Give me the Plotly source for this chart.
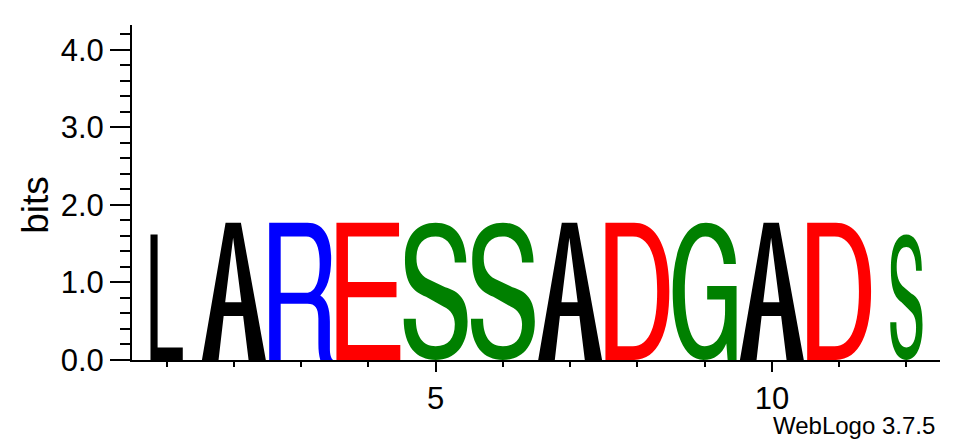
import plotly.graph_objects as go

# sequence logo data
positions = list(range(1, 13))
residues = ['L', 'A', 'R', 'E', 'S', 'S', 'A', 'D', 'G', 'A', 'D', 'S']
bits = [1.62, 1.77, 1.77, 1.77, 1.77, 1.77, 1.77, 1.77, 1.77, 1.77, 1.77, 1.62]
ytick_vals = [0, 1, 2, 3, 4]
ytick_text = ['0.0', '1.0', '2.0', '3.0', '4.0']
xtick_vals = [5, 10]
xtick_text = ['5', '10']

# styling
colour_scheme = {'L': '#000000', 'A': '#000000', 'R': '#0000FF', 'E': '#FF0000',
                 'D': '#FF0000', 'S': '#008000', 'G': '#008000'}
col_width = [0.48, 0.95, 0.95, 0.95, 0.95, 0.95, 0.95, 0.95, 0.95, 0.95, 0.95, 0.48]
FONT = 'Liberation Sans, Arial, Helvetica, sans-serif'

# glyph outlines in a unit box (x 0..1 across, y 0..1 up)
GLYPHS = {
    'L': "M 0 0 L 1 0 L 1 0.1 L 0.22 0.1 L 0.22 1 L 0 1 Z",
    'A': "M 0 0 L 0.37 1 L 0.61 1 L 1 0 L 0.73 0 L 0.645 0.32 L 0.34 0.32 L 0.26 0 Z "
         "M 0.364 0.42 L 0.618 0.42 L 0.488 0.89 Z",
    'R': "M 0 0 L 0 1 L 0.6 1 C 0.85 1 0.97 0.9 0.97 0.74 C 0.97 0.6 0.9 0.52 0.8 0.47 "
         "C 0.9 0.44 0.95 0.38 0.95 0.28 L 0.95 0.08 C 0.95 0.04 0.97 0.01 1 0 L 0.8 0 "
         "C 0.78 0.03 0.77 0.07 0.77 0.12 L 0.77 0.3 C 0.77 0.38 0.72 0.41 0.6 0.41 "
         "L 0.18 0.41 L 0.18 0 Z "
         "M 0.18 0.49 L 0.58 0.49 C 0.72 0.49 0.79 0.57 0.79 0.7 C 0.79 0.83 0.72 0.9 0.58 0.9 "
         "L 0.18 0.9 Z",
    'E': "M 0 0 L 1 0 L 1 0.11 L 0.18 0.11 L 0.18 0.457 L 0.94 0.457 L 0.94 0.568 "
         "L 0.18 0.568 L 0.18 0.9 L 0.98 0.9 L 0.98 1 L 0 1 Z",
    'S': "M 0.98 0.71 C 0.97 0.9 0.8 1 0.5 1 C 0.2 1 0.02 0.9 0.02 0.73 "
         "C 0.02 0.56 0.14 0.5 0.35 0.46 L 0.62 0.39 C 0.75 0.36 0.8 0.32 0.8 0.26 "
         "C 0.8 0.16 0.7 0.1 0.5 0.1 C 0.3 0.1 0.19 0.17 0.19 0.3 L 0 0.3 "
         "C 0 0.1 0.2 0 0.5 0 C 0.8 0 1 0.1 1 0.28 C 1 0.45 0.86 0.5 0.65 0.53 "
         "L 0.38 0.59 C 0.26 0.62 0.2 0.67 0.2 0.74 C 0.2 0.84 0.3 0.9 0.5 0.9 "
         "C 0.68 0.9 0.79 0.83 0.8 0.71 Z",
    'D': "M 0 0 L 0 1 L 0.45 1 C 0.82 1 1 0.8 1 0.5 C 1 0.2 0.82 0 0.45 0 Z "
         "M 0.19 0.1 L 0.19 0.9 L 0.43 0.9 C 0.7 0.9 0.81 0.74 0.81 0.5 "
         "C 0.81 0.26 0.7 0.1 0.43 0.1 Z",
    'G': "M 0.99 0.7 C 0.97 0.9 0.78 1 0.52 1 C 0.18 1 0 0.78 0 0.5 C 0 0.2 0.18 0 0.48 0 "
         "C 0.65 0 0.77 0.04 0.84 0.12 L 0.86 0 L 1 0 L 1 0.54 L 0.54 0.54 L 0.54 0.44 "
         "L 0.82 0.44 L 0.82 0.36 C 0.82 0.2 0.7 0.1 0.5 0.1 C 0.3 0.1 0.19 0.26 0.19 0.5 "
         "C 0.19 0.74 0.3 0.9 0.51 0.9 C 0.67 0.9 0.77 0.82 0.8 0.7 Z",
}


def glyph_path(letter, x, width, height):
    # scale the unit glyph into the data box of one stack
    out, nums = [], []
    for tok in GLYPHS[letter].split():
        if tok.isalpha():
            out.append(tok)
        else:
            nums.append(float(tok))
            if len(nums) == 2:
                u, v = nums
                out.append(f'{x - width / 2 + u * width:.4f},{v * height:.4f}')
                nums = []
    return ' '.join(out)


fig = go.Figure()
# invisible trace so hover shows the stack values
fig.add_trace(go.Scatter(x=positions, y=[b / 2 for b in bits], mode='markers',
                         marker=dict(opacity=0), text=residues, showlegend=False,
                         customdata=bits,
                         hovertemplate='%{x}: %{text}<br>%{customdata:.2f} bits<extra></extra>'))

for pos, res, b, w in zip(positions, residues, bits, col_width):
    fig.add_shape(type='path', path=glyph_path(res, pos, w, b), xref='x', yref='y',
                  fillcolor=colour_scheme[res], line=dict(width=0), layer='above')

fig.update_layout(
    width=955, height=436,
    margin=dict(l=124, r=23, t=17, b=84),
    plot_bgcolor='white', paper_bgcolor='white',
    font=dict(family=FONT, color='black'),
    showlegend=False,
    xaxis=dict(range=[0.485, 12.5], showgrid=False, zeroline=False,
               showline=True, linecolor='black', linewidth=2,
               tickmode='array', tickvals=xtick_vals, ticktext=xtick_text,
               ticks='outside', ticklen=10, tickwidth=2, tickcolor='black',
               tickfont=dict(size=31),
               minor=dict(ticks='outside', dtick=1, tick0=0, ticklen=5,
                          tickwidth=2, tickcolor='black')),
    yaxis=dict(range=[0, 4.32], showgrid=False, zeroline=False,
               showline=True, linecolor='black', linewidth=2,
               tickmode='array', tickvals=ytick_vals, ticktext=ytick_text,
               ticks='outside', ticklen=20, tickwidth=2, tickcolor='black',
               tickfont=dict(size=31),
               minor=dict(ticks='outside', dtick=0.2, tick0=0, ticklen=10,
                          tickwidth=2, tickcolor='black')),
)

fig.add_annotation(text='bits', xref='paper', yref='y', x=-0.119, y=2.0,
                   textangle=-90, showarrow=False, font=dict(size=37),
                   xanchor='center', yanchor='middle')
fig.add_annotation(text='WebLogo 3.7.5', xref='paper', yref='paper', x=0.996, y=-0.197,
                   showarrow=False, font=dict(size=24), xanchor='right', yanchor='middle')

fig.write_html("out.html")
